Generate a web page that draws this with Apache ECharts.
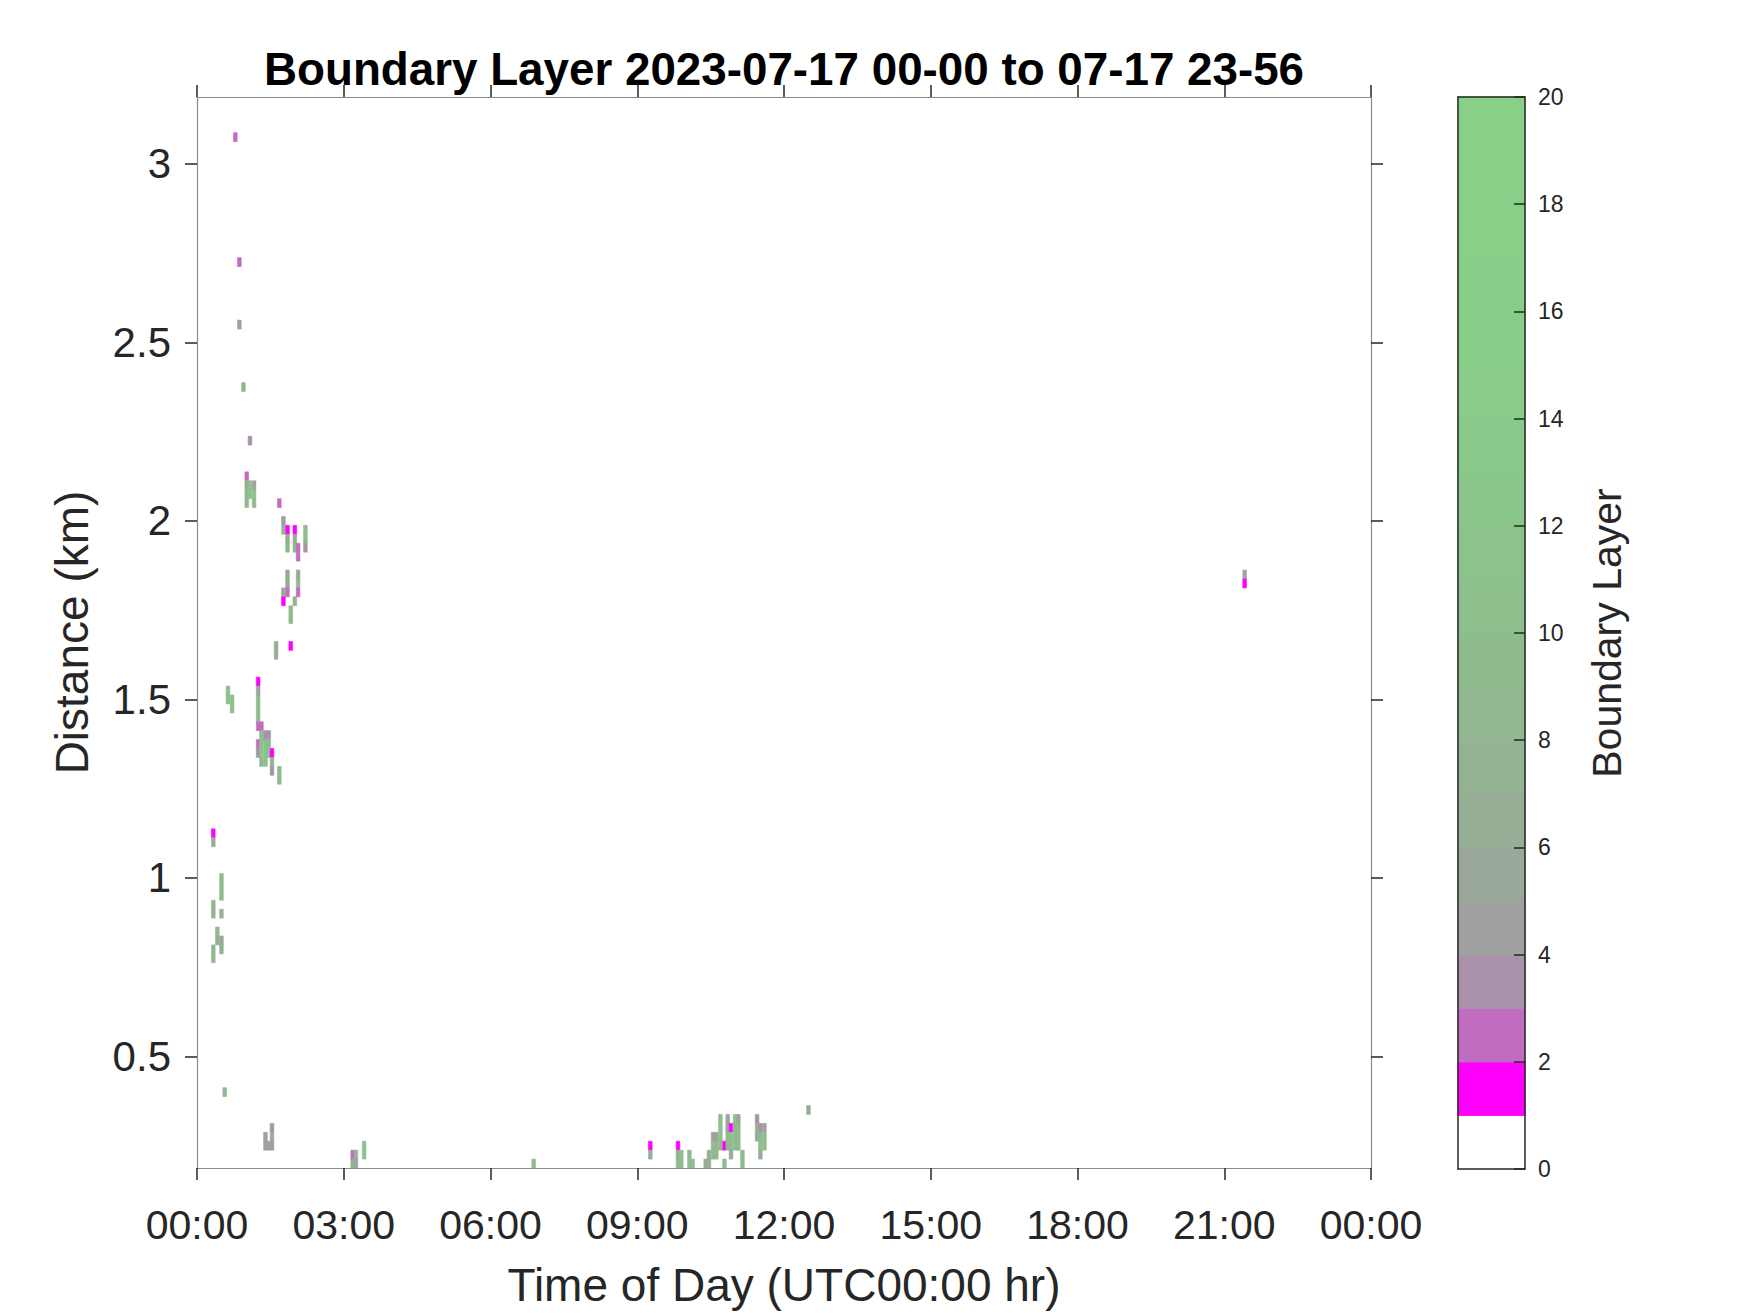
<!DOCTYPE html>
<html>
<head>
<meta charset="utf-8">
<script src="https://cdn.jsdelivr.net/npm/echarts@6/dist/echarts.min.js"></script>
<style>
html,body{margin:0;padding:0;background:#fff;}
#chart{width:1750px;height:1313px;}
</style>
</head>
<body>
<div id="chart"></div>
<script>
// ---------------- data ----------------
const titleText = 'Boundary Layer 2023-07-17 00-00 to 07-17 23-56';
const xName = 'Time of Day (UTC00:00 hr)';
const yName = 'Distance (km)';
const cbName = 'Boundary Layer';
const xTickLabels = ['00:00','03:00','06:00','09:00','12:00','15:00','18:00','21:00','00:00'];
const yTickValues = [0.5, 1, 1.5, 2, 2.5, 3];
const yTickLabels = ['0.5','1','1.5','2','2.5','3'];
const cbLevels = [0,1,2,3,4,5,6,7,8,9,10,11,12,13,14,15,16,17,18,19];
const levelColors = ['#ffffff','#ff00ff','#c16cc1','#a992a9','#a0a0a0','#99a899','#96ad96','#93b393','#91b891','#8fbc8f',
                     '#8dc08d','#8bc38b','#8ac68a','#89c989','#89cb89','#88cd88','#88ce88','#88cf88','#88d088','#88d088'];

// profile time (minutes after 00:00), range gate height (km), boundary-layer value
const cellTime = [
  20,20,20,20,20,20,
  25,25,
  30,30,30,30,30,30,
  34,
  38,38,43,43,
  47,52,52,57,
  61,61,61,61,
  65,65,65,
  70,70,70,
  75,75,75,75,75,75,75,75,
  79,79,79,79,79,
  84,84,84,84,
  84,84,
  88,88,88,
  88,
  92,92,92,
  92,92,92,
  97,97,
  101,101,101,
  106,106,106,106,
  111,111,111,111,111,111,
  115,115,115,
  120,120,120,120,
  124,124,124,124,124,
  133,133,133,
  191,191,195,195,205,205,
  413,
  556,556,
  590,590,590,
  594,594,
  604,604,608,
  624,628,628,
  633,633,633,
  637,637,637,
  642,642,642,642,
  647,647,
  651,651,651,651,
  655,655,655,655,
  660,660,660,660,
  664,664,664,664,
  669,669,
  687,687,687,
  691,691,691,691,
  696,696,696,
  750,
  1285,1285
];
const cellHeight = [
  1.125,1.1,0.925,0.9,0.8,0.775,
  0.85,0.825,
  1.0,0.975,0.95,0.9,0.825,0.8,
  0.4,
  1.525,1.5,1.5,1.475,
  3.075,2.725,2.55,2.375,
  2.125,2.1,2.075,2.05,
  2.225,2.1,2.075,
  2.1,2.075,2.05,
  1.55,1.525,1.5,1.475,1.45,1.425,1.375,1.35,
  1.425,1.4,1.375,1.35,1.325,
  1.4,1.375,1.35,1.325,
  0.275,0.25,
  1.4,1.375,1.35,
  0.25,
  1.35,1.325,1.3,
  0.3,0.275,0.25,
  1.65,1.625,
  2.05,1.3,1.275,
  2.0,1.975,1.8,1.775,
  1.975,1.95,1.925,1.85,1.825,1.8,
  1.75,1.725,1.65,
  1.975,1.95,1.925,1.775,
  1.925,1.9,1.85,1.825,1.8,
  1.975,1.95,1.925,
  0.225,0.2,0.225,0.2,0.25,0.225,
  0.2,
  0.25,0.225,
  0.25,0.225,0.2,
  0.225,0.2,
  0.225,0.2,0.2,
  0.2,0.225,0.2,
  0.275,0.25,0.225,
  0.275,0.25,0.225,
  0.325,0.3,0.275,0.25,
  0.25,0.2,
  0.325,0.3,0.275,0.25,
  0.3,0.275,0.25,0.225,
  0.325,0.3,0.275,0.25,
  0.325,0.3,0.275,0.25,
  0.225,0.2,
  0.325,0.3,0.275,
  0.3,0.275,0.25,0.225,
  0.3,0.275,0.25,
  0.35,
  1.85,1.825
];
const cellValue = [
  1.5,6,7,7,8,8,
  9,6,
  9,9,9,7,5,7,
  8,
  10,10,9,9,
  2.5,2.5,4.5,7,
  2.5,6,9,8,
  3.5,10,11,
  4.5,10,8,
  1.5,4.5,9,9,9,2.5,2.5,3,
  2.5,10,10,11,9,
  3.5,9,12,10,
  4.5,4.5,
  3.5,8,10,
  4.5,
  1.5,7,3.5,
  3.5,7,4.5,
  6,6,
  2.5,8,8,
  4,8,6,1.5,
  1.5,5,8,5,5.5,2.5,
  8,8,1.5,
  1.5,6,9,7,
  2.5,2.5,5,8,2.5,
  9,8,3.5,
  2.5,6,7,5,10,10,
  9,
  1.5,6,
  1.5,6,9,
  9,9,
  9,9,10,
  6,5,7,
  4,9,8,
  4.5,8,8,
  10,10,10,9,
  1.5,9,
  5,4.5,9,9,
  1.5,10,8,5,
  10,7,9,9,
  5,9,8,9,
  9,8,
  3,7,5,
  3.5,9,10,6,
  4.5,9,10,
  6,
  6,1.5
];
if (cellTime.length !== cellHeight.length || cellTime.length !== cellValue.length) {
  console.error('length mismatch', cellTime.length, cellHeight.length, cellValue.length);
}

// ---------------- rendering ----------------
const CELL_MIN = 4.5;   // profile width in minutes
const CELL_KM = 0.025;  // range gate in km
const FONT = '"Liberation Sans", Arial, Helvetica, sans-serif';
const TICK = '#262626';
const BOX = '#8a8a8a';

function colorFor(v) {
  const i = Math.max(0, Math.min(levelColors.length - 1, Math.floor(v)));
  return levelColors[i];
}

const cells = cellTime.map((t, i) => [t, cellHeight[i], cellValue[i]]);

const chart = echarts.init(document.getElementById('chart'), null, {renderer: 'svg'});

const boxAxisLine = {show: true, onZero: false, lineStyle: {color: BOX, width: 1.2}};
const cbAxisLine = {show: true, onZero: false, lineStyle: {color: TICK, width: 1.5}};
const outTick = {show: true, inside: false, length: 12, lineStyle: {color: TICK, width: 1.5}};

const option = {
  animation: false,
  backgroundColor: '#ffffff',
  graphic: [{
    type: 'text', x: 784, y: 69, z: 100,
    style: {text: titleText, font: 'bold 45.75px ' + FONT, fill: '#000000', textAlign: 'center', textVerticalAlign: 'middle'}
  }],
  grid: [
    {left: 197, top: 97, width: 1174, height: 1072},
    {left: 1458, top: 97, width: 67, height: 1072}
  ],
  xAxis: [
    {
      gridIndex: 0, type: 'value', min: 0, max: 1440, interval: 180, position: 'bottom', z: 10,
      axisLine: boxAxisLine, axisTick: outTick, splitLine: {show: false},
      axisLabel: {show: true, margin: 36, fontSize: 41, fontFamily: FONT, color: TICK, showMinLabel: true, showMaxLabel: true,
                  hideOverlap: false, formatter: v => xTickLabels[Math.round(v / 180)]},
      name: xName, nameLocation: 'middle', nameGap: 117,
      nameTextStyle: {fontSize: 46, fontFamily: FONT, color: TICK, verticalAlign: 'middle'}
    },
    {
      gridIndex: 0, type: 'value', min: 0, max: 1440, interval: 180, position: 'top', z: 10,
      axisLine: boxAxisLine, axisTick: outTick, axisLabel: {show: false}, splitLine: {show: false}
    },
    {
      gridIndex: 1, type: 'value', min: 0, max: 1, position: 'bottom', z: 10,
      axisLine: cbAxisLine, axisTick: {show: false}, axisLabel: {show: false}, splitLine: {show: false}
    },
    {
      gridIndex: 1, type: 'value', min: 0, max: 1, position: 'top', z: 10,
      axisLine: cbAxisLine, axisTick: {show: false}, axisLabel: {show: false}, splitLine: {show: false}
    }
  ],
  yAxis: [
    {
      gridIndex: 0, type: 'value', min: 0.1875, max: 3.1875, position: 'left', z: 10,
      axisLine: boxAxisLine,
      axisTick: Object.assign({}, outTick, {customValues: yTickValues}),
      axisLabel: {show: true, customValues: yTickValues, margin: 26, fontSize: 42, fontFamily: FONT, color: TICK,
                  formatter: v => yTickLabels[yTickValues.indexOf(Math.round(v * 10) / 10)]},
      splitLine: {show: false},
      name: yName, nameLocation: 'middle', nameGap: 125, nameRotate: 90,
      nameTextStyle: {fontSize: 46, fontFamily: FONT, color: TICK, verticalAlign: 'middle'}
    },
    {
      gridIndex: 0, type: 'value', min: 0.1875, max: 3.1875, position: 'right', z: 10,
      axisLine: boxAxisLine,
      axisTick: Object.assign({}, outTick, {customValues: yTickValues}),
      axisLabel: {show: false}, splitLine: {show: false}
    },
    {
      gridIndex: 1, type: 'value', min: 0, max: 20, interval: 2, position: 'right', z: 10,
      axisLine: cbAxisLine,
      axisTick: {show: true, inside: true, length: 11, lineStyle: {color: TICK, width: 1.5}},
      axisLabel: {show: true, margin: 13, fontSize: 23, fontFamily: FONT, color: TICK, showMinLabel: true, showMaxLabel: true},
      splitLine: {show: false},
      name: cbName, nameLocation: 'middle', nameGap: 82, nameRotate: 90,
      nameTextStyle: {fontSize: 41, fontFamily: FONT, color: TICK, verticalAlign: 'middle'}
    },
    {
      gridIndex: 1, type: 'value', min: 0, max: 20, position: 'left', z: 10,
      axisLine: cbAxisLine, axisTick: {show: false}, axisLabel: {show: false}, splitLine: {show: false}
    }
  ],
  series: [
    {
      type: 'custom', xAxisIndex: 0, yAxisIndex: 0, clip: true, data: cells,
      renderItem: function (params, api) {
        const t = api.value(0), h = api.value(1), v = api.value(2);
        const p0 = api.coord([t - CELL_MIN / 2, h + CELL_KM / 2]);
        const p1 = api.coord([t + CELL_MIN / 2, h - CELL_KM / 2]);
        const c = colorFor(v);
        return {type: 'rect', shape: {x: p0[0], y: p0[1], width: p1[0] - p0[0], height: p1[1] - p0[1]},
                style: {fill: c, stroke: c, lineWidth: 0.6}};
      }
    },
    {
      type: 'custom', xAxisIndex: 2, yAxisIndex: 2, data: cbLevels.map(l => [l]),
      renderItem: function (params, api) {
        const l = api.value(0);
        const p0 = api.coord([0, l + 1]);
        const p1 = api.coord([1, l]);
        const c = levelColors[l];
        return {type: 'rect', shape: {x: p0[0], y: p0[1], width: p1[0] - p0[0], height: p1[1] - p0[1]},
                style: {fill: c, stroke: c, lineWidth: 1}};
      }
    }
  ]
};
chart.setOption(option);
</script>
</body>
</html>
